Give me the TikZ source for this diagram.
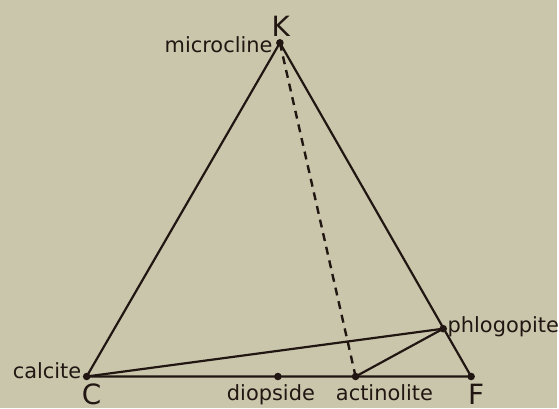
\documentclass[tikz,border=0pt]{standalone}
\usepackage{fontspec}
\setmainfont{DejaVu Sans}
\usetikzlibrary{positioning}
\definecolor{paper}{RGB}{201,198,172}
\definecolor{ink}{RGB}{34,22,18}

\begin{document}
\begin{tikzpicture}[
    x=0.5pt,y=-0.5pt,
    pt/.style={circle,fill=ink,inner sep=0pt,minimum size=3.8pt},
    lbl/.style={inner sep=0pt,text=ink,font=\fontsize{10.5}{12}\selectfont},
    corner/.style={inner sep=0pt,text=ink,font=\fontsize{14}{16}\selectfont},
    edge/.style={draw=ink,line width=1.1pt},
    tie/.style={draw=ink,line width=1.2pt,dash pattern=on 4pt off 3pt}
  ]
    \fill[paper] (0,0) rectangle (559,410);
    % end members and phases
    \node[pt] (K) at (281,43) {};
    \node[pt] (C) at (87,378) {};
    \node[pt] (F) at (473,378) {};
    \node[pt] (phl) at (445,330) {};
    \node[pt] (di) at (279,378) {};
    \node[pt] (act) at (357,378) {};
    % labels
    \node[corner,anchor=base] (Klab) at (282,37) {K};
    \node[corner,anchor=base] (Clab) at (92,406) {C};
    \node[corner,anchor=base] (Flab) at (478,406) {F};
    \node[lbl,anchor=base east] (mic) at (274,53) {microcline};
    \node[lbl,anchor=base east] (cal) at (82,380) {calcite};
    \node[lbl,anchor=base west] (phlog) at (449,334) {phlogopite};
    \node[lbl,anchor=base] (diop) at (272,402) {diopside};
    \node[lbl,anchor=base] (actin) at (386,402) {actinolite};
    % triangle and tie lines
    \draw[edge] (K.center)--(C.center)--(F.center)--cycle;
    \draw[edge] (C.center)--(phl.center);
    \draw[edge] (phl.center)--(act.center);
    \draw[tie] (K.center)--(act.center);
\end{tikzpicture}
\end{document}
